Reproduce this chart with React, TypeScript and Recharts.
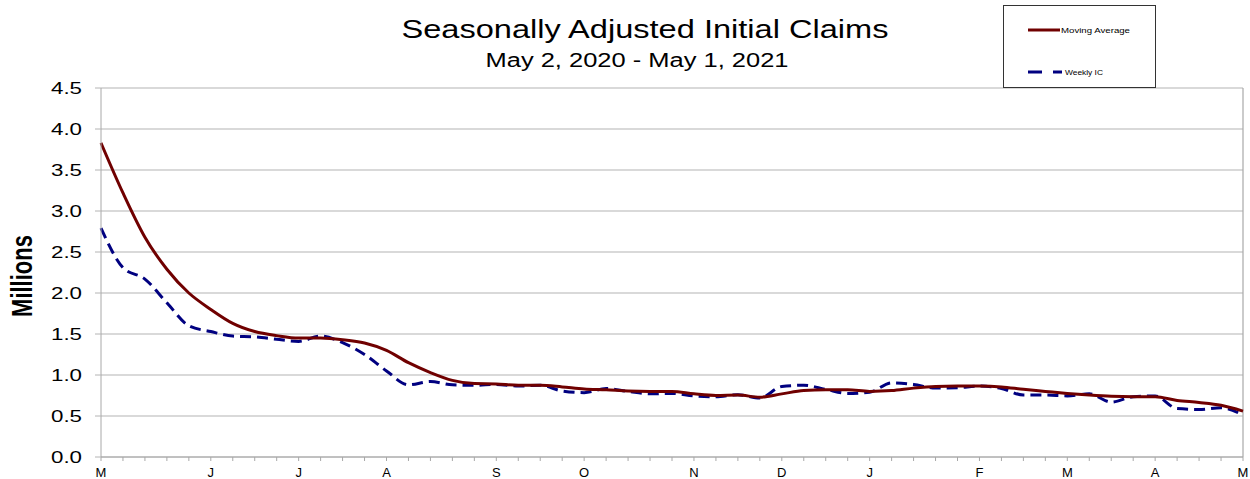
import React from 'react';
import { LineChart, Line, XAxis, YAxis, CartesianGrid, ReferenceLine } from 'recharts';

const weekDates = [
  '2020-05-02', '2020-05-09', '2020-05-16', '2020-05-23', '2020-05-30',
  '2020-06-06', '2020-06-13', '2020-06-20', '2020-06-27',
  '2020-07-04', '2020-07-11', '2020-07-18', '2020-07-25',
  '2020-08-01', '2020-08-08', '2020-08-15', '2020-08-22', '2020-08-29',
  '2020-09-05', '2020-09-12', '2020-09-19', '2020-09-26',
  '2020-10-03', '2020-10-10', '2020-10-17', '2020-10-24', '2020-10-31',
  '2020-11-07', '2020-11-14', '2020-11-21', '2020-11-28',
  '2020-12-05', '2020-12-12', '2020-12-19', '2020-12-26',
  '2021-01-02', '2021-01-09', '2021-01-16', '2021-01-23', '2021-01-30',
  '2021-02-06', '2021-02-13', '2021-02-20', '2021-02-27',
  '2021-03-06', '2021-03-13', '2021-03-20', '2021-03-27',
  '2021-04-03', '2021-04-10', '2021-04-17', '2021-04-24',
  '2021-05-01',
];

const movingAverage = [
  3.83, 3.22, 2.68, 2.29, 2.0, 1.8, 1.63, 1.53, 1.48, 1.45,
  1.45, 1.43, 1.39, 1.3, 1.15, 1.03, 0.935, 0.895, 0.89, 0.875,
  0.875, 0.855, 0.83, 0.82, 0.805, 0.8, 0.8, 0.77, 0.75, 0.755,
  0.73, 0.77, 0.81, 0.82, 0.82, 0.8, 0.81, 0.84, 0.86, 0.865,
  0.865, 0.855, 0.825, 0.8, 0.775, 0.755, 0.74, 0.735, 0.735, 0.69,
  0.665, 0.63, 0.56,
];

const weeklyIC = [
  2.79, 2.31, 2.17, 1.88, 1.6, 1.53, 1.475, 1.465, 1.435, 1.41,
  1.475, 1.395, 1.25, 1.05, 0.88, 0.92, 0.88, 0.875, 0.885, 0.865,
  0.875, 0.805, 0.785, 0.835, 0.8, 0.77, 0.775, 0.745, 0.735, 0.76,
  0.72, 0.86, 0.875, 0.825, 0.775, 0.79, 0.905, 0.885, 0.84, 0.845,
  0.865, 0.835, 0.755, 0.755, 0.745, 0.77, 0.67, 0.735, 0.745, 0.59,
  0.58, 0.6, 0.51,
];

const monthTickWeeks = [0, 5, 9, 13, 18, 22, 27, 31, 35, 40, 44, 48, 52];
const monthLabels = ['M', 'J', 'J', 'A', 'S', 'O', 'N', 'D', 'J', 'F', 'M', 'A', 'M'];
const yTicks = [0, 0.5, 1, 1.5, 2, 2.5, 3, 3.5, 4, 4.5];

const data = weekDates.map((date, i) => ({
  week: i,
  date,
  ma: movingAverage[i],
  ic: weeklyIC[i],
}));

const allWeeks = weekDates.map((_, i) => i);

const FONT = '"Liberation Sans", Arial, sans-serif';
const RED = '#700000';
const BLUE = '#000080';

const YTick = (props: any) => {
  const { x, y, payload } = props;
  return (
    <text
      x={x}
      y={y}
      textAnchor="end"
      dominantBaseline="central"
      fontFamily={FONT}
      fontSize={17}
      fill="#000"
      textLength={31}
      lengthAdjust="spacingAndGlyphs"
    >
      {Number(payload.value).toFixed(1)}
    </text>
  );
};

const XTick = (props: any) => {
  const { x, y, payload } = props;
  const idx = monthTickWeeks.indexOf(payload.value);
  if (idx < 0) return null;
  return (
    <text
      x={x}
      y={y + 9}
      textAnchor="middle"
      fontFamily={FONT}
      fontSize={13}
      fill="#000"
    >
      {monthLabels[idx]}
    </text>
  );
};

export default function App() {
  return (
    <div style={{ position: 'absolute', left: 0, top: 0, width: 1250, height: 479, background: '#fff' }}>
      <LineChart
        width={1250}
        height={479}
        data={data}
        margin={{ top: 88, right: 7, bottom: 0, left: 0 }}
      >
        <CartesianGrid vertical={false} stroke="#b4b4b4" strokeWidth={1.2} />
        <XAxis
          dataKey="week"
          type="number"
          domain={[0, 52]}
          ticks={allWeeks}
          interval={0}
          height={22}
          tickSize={4}
          tickMargin={7}
          tick={<XTick />}
          stroke="#a8a8a8"
          tickLine={{ stroke: '#a8a8a8' }}
        />
        <YAxis
          type="number"
          domain={[0, 4.5]}
          ticks={yTicks}
          interval={0}
          width={101}
          tickSize={6}
          tickMargin={13}
          tick={<YTick />}
          stroke="#a8a8a8"
          tickLine={{ stroke: '#b4b4b4' }}
        />
        <ReferenceLine x={52} stroke="#a8a8a8" strokeWidth={1.2} />
        <Line
          type="monotone"
          dataKey="ic"
          stroke={BLUE}
          strokeWidth={3}
          strokeDasharray="11 6"
          dot={false}
          isAnimationActive={false}
        />
        <Line
          type="monotone"
          dataKey="ma"
          stroke={RED}
          strokeWidth={3}
          dot={false}
          isAnimationActive={false}
        />
      </LineChart>
      <svg
        width={1250}
        height={479}
        style={{ position: 'absolute', left: 0, top: 0, pointerEvents: 'none' }}
      >
        <text
          x={645}
          y={38}
          textAnchor="middle"
          fontFamily={FONT}
          fontSize={25}
          fill="#000"
          textLength={487}
          lengthAdjust="spacingAndGlyphs"
        >
          Seasonally Adjusted Initial Claims
        </text>
        <text
          x={637}
          y={67}
          textAnchor="middle"
          fontFamily={FONT}
          fontSize={19.5}
          fill="#000"
          textLength={303}
          lengthAdjust="spacingAndGlyphs"
        >
          May 2, 2020 - May 1, 2021
        </text>
        <text
          x={0}
          y={0}
          textAnchor="middle"
          fontFamily={FONT}
          fontSize={22}
          fontWeight="bold"
          fill="#000"
          transform="translate(32 276) scale(1.3 1) rotate(-90)"
        >
          Millions
        </text>
        <rect x={1003.5} y={5.5} width={152} height={82} fill="#fff" stroke="#333" strokeWidth={1} />
        <line x1={1028} y1={30} x2={1060} y2={30} stroke={RED} strokeWidth={3} />
        <text
          x={1061}
          y={33}
          fontFamily={FONT}
          fontSize={8}
          fill="#000"
          textLength={69}
          lengthAdjust="spacingAndGlyphs"
        >
          Moving Average
        </text>
        <line x1={1028} y1={72} x2={1062} y2={72} stroke={BLUE} strokeWidth={3} strokeDasharray="14 11" />
        <text
          x={1065}
          y={75}
          fontFamily={FONT}
          fontSize={8}
          fill="#000"
          textLength={38}
          lengthAdjust="spacingAndGlyphs"
        >
          Weekly IC
        </text>
      </svg>
    </div>
  );
}
